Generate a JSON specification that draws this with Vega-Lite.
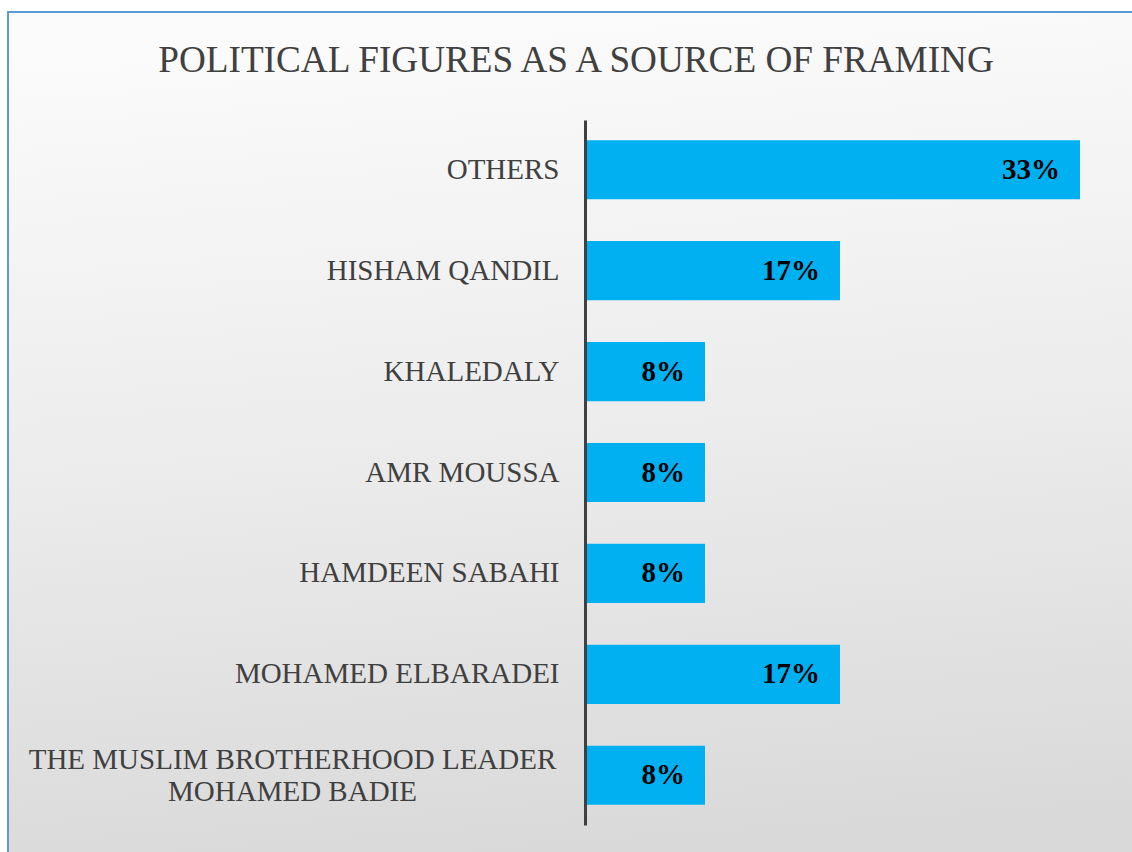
{
  "$schema": "https://vega.github.io/schema/vega-lite/v6.json",
  "autosize": {"type": "none"},
  "padding": {"left": 8, "top": 12, "right": 0, "bottom": 0},
  "width": 1124,
  "height": 840,
  "background": "white",
  "config": {
    "view": {
      "stroke": "#5b9bd5",
      "strokeWidth": 2,
      "strokeDash": [1124, 1964, 840],
      "fill": {
        "gradient": "linear",
        "x1": 0.45, "y1": 0, "x2": 0.55, "y2": 1,
        "stops": [
          {"offset": 0, "color": "#fbfbfb"},
          {"offset": 0.5, "color": "#ececec"},
          {"offset": 1, "color": "#d9d9d9"}
        ]
      }
    },
    "font": "Liberation Serif"
  },
  "title": {
    "text": "POLITICAL FIGURES AS A SOURCE OF FRAMING",
    "font": "Liberation Serif",
    "fontSize": 37.2,
    "fontWeight": "normal",
    "color": "#404040",
    "anchor": "middle",
    "baseline": "alphabetic",
    "offset": -97,
    "dx": 6
  },
  "data": {
    "values": [
      {"figure": "OTHERS", "share": 33, "label": "33%"},
      {"figure": "HISHAM QANDIL", "share": 17, "label": "17%"},
      {"figure": "KHALEDALY", "share": 8, "label": "8%"},
      {"figure": "AMR MOUSSA", "share": 8, "label": "8%"},
      {"figure": "HAMDEEN SABAHI", "share": 8, "label": "8%"},
      {"figure": "MOHAMED ELBARADEI", "share": 17, "label": "17%"},
      {"figure": "THE MUSLIM BROTHERHOOD LEADER MOHAMED BADIE", "share": 8, "label": "8%"}
    ]
  },
  "encoding": {
    "y": {
      "field": "figure",
      "type": "nominal",
      "sort": null,
      "scale": {"range": [108, 813], "paddingInner": 0.414, "paddingOuter": 0.2},
      "axis": {
        "title": null,
        "orient": "left",
        "offset": -577,
        "zindex": 1,
        "ticks": false,
        "domainColor": "#404040",
        "domainWidth": 3,
        "labelFont": "Liberation Serif",
        "labelFontSize": 29,
        "labelColor": "#404040",
        "labelLimit": 700,
        "labelLineHeight": 32,
        "labelPadding": {"condition": {"test": "datum.value === 'THE MUSLIM BROTHERHOOD LEADER MOHAMED BADIE'", "value": 293}, "value": 26},
        "labelAlign": {"condition": {"test": "datum.value === 'THE MUSLIM BROTHERHOOD LEADER MOHAMED BADIE'", "value": "center"}, "value": "right"},
        "labelOffset": {"condition": {"test": "datum.value === 'THE MUSLIM BROTHERHOOD LEADER MOHAMED BADIE'", "value": -15}, "value": 0},
        "labelExpr": "datum.value === 'THE MUSLIM BROTHERHOOD LEADER MOHAMED BADIE' ? ['THE MUSLIM BROTHERHOOD LEADER', 'MOHAMED BADIE'] : datum.label"
      }
    },
    "x": {
      "field": "share",
      "type": "quantitative",
      "scale": {"domain": [-38.467, 36.467], "zero": false, "nice": false},
      "axis": null
    }
  },
  "layer": [
    {"mark": {"type": "bar", "color": "#00b0f0"}},
    {
      "mark": {
        "type": "text",
        "align": "right",
        "baseline": "middle",
        "dx": -20,
        "font": "Liberation Serif",
        "fontSize": 29,
        "fontWeight": "bold",
        "color": "#000000"
      },
      "encoding": {"text": {"field": "label"}}
    }
  ]
}
